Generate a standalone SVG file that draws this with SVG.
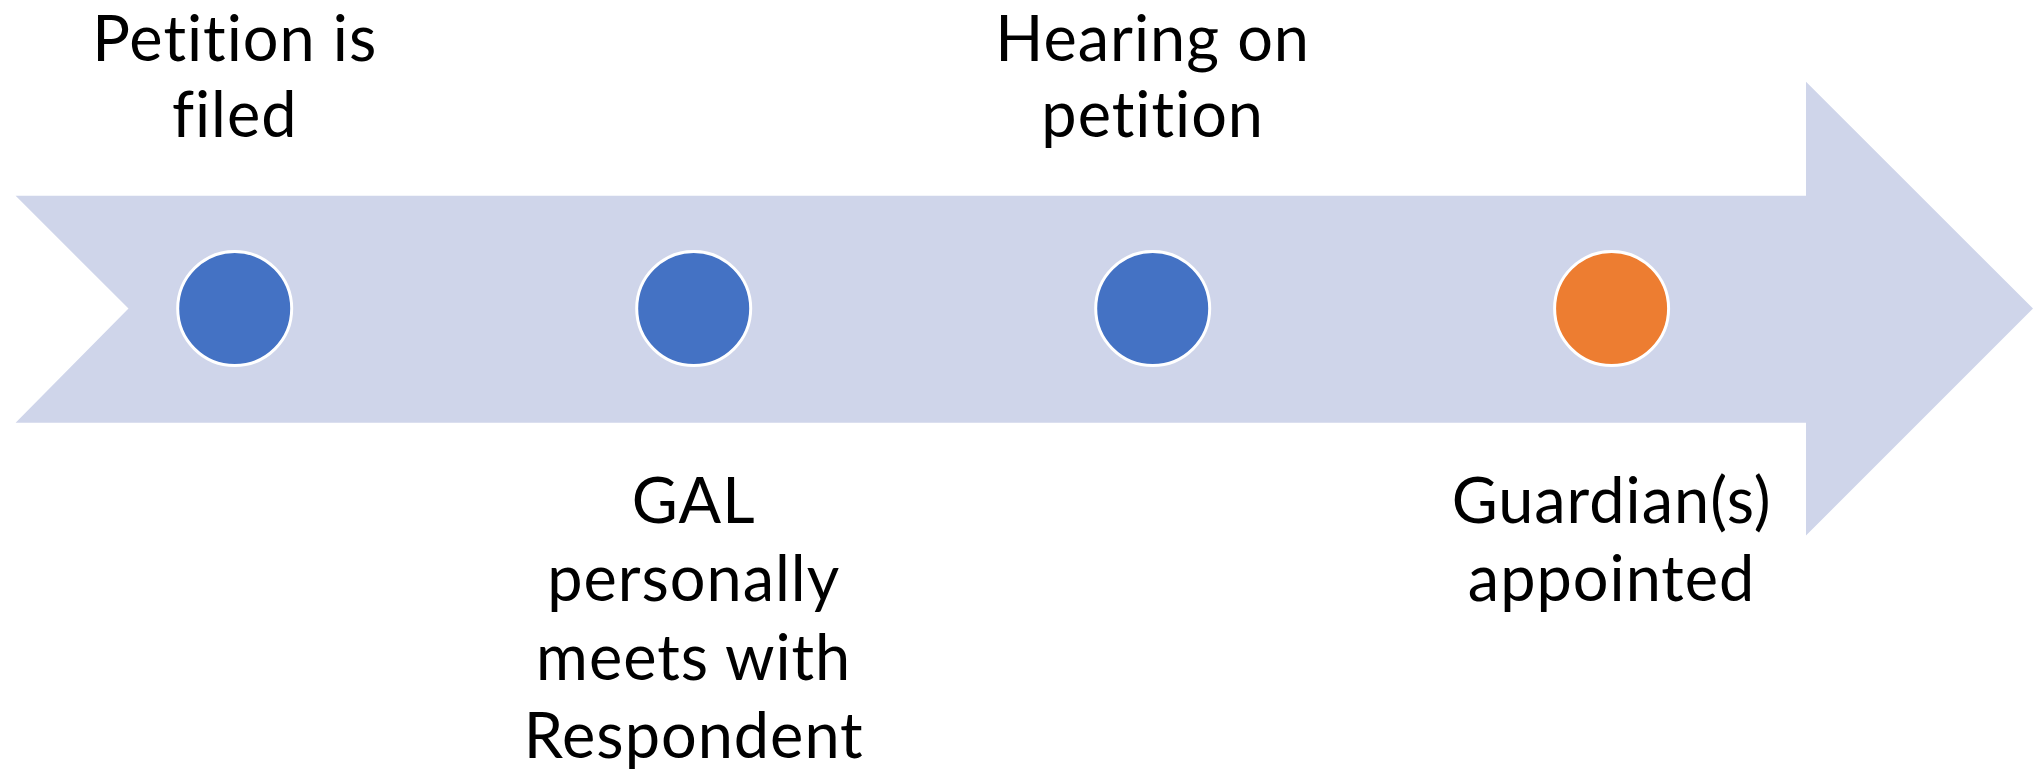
<svg xmlns="http://www.w3.org/2000/svg" width="2033" height="771" viewBox="0 0 2033 771">
<style>
.lbl{font-family:"Lato","Open Sans","Liberation Sans",sans-serif;font-size:63px;letter-spacing:1px;font-variant-ligatures:none;font-feature-settings:"liga" 0,"clig" 0,"dlig" 0;fill:#000;text-anchor:middle}
.dot{stroke:#fff;stroke-width:3}
.blue{fill:#4472C4}
.orange{fill:#ED7D31}
</style>
<rect width="2033" height="771" fill="#fff"/>
<g id="arrow">
<polygon points="15.6,195.8 1806,195.8 1806,81.7 2033,308.6 1806,535.5 1806,422.7 15.6,422.7 128.5,308.6" fill="#CFD5EA"/>
</g>
<g id="connectors"></g>
<g id="node1">
<circle class="dot blue" cx="234.7" cy="308.6" r="57"/>
<text class="lbl" x="234.7" y="61">Petition is</text>
<text class="lbl" x="234.7" y="137">filed</text>
</g>
<g id="node2">
<circle class="dot blue" cx="693.7" cy="308.6" r="57"/>
<text class="lbl" x="693.7" y="523">GAL</text>
<text class="lbl" x="693.7" y="601">personally</text>
<text class="lbl" x="693.7" y="680">meets with</text>
<text class="lbl" x="693.7" y="758">Respondent</text>
</g>
<g id="node3">
<circle class="dot blue" cx="1152.7" cy="308.6" r="57"/>
<text class="lbl" x="1152.7" y="61">Hearing on</text>
<text class="lbl" x="1152.7" y="137">petition</text>
</g>
<g id="node4">
<circle class="dot orange" cx="1611.6" cy="308.6" r="57"/>
<text class="lbl" x="1611.6" y="523">Guardian(s)</text>
<text class="lbl" x="1611.6" y="601">appointed</text>
</g>
</svg>
